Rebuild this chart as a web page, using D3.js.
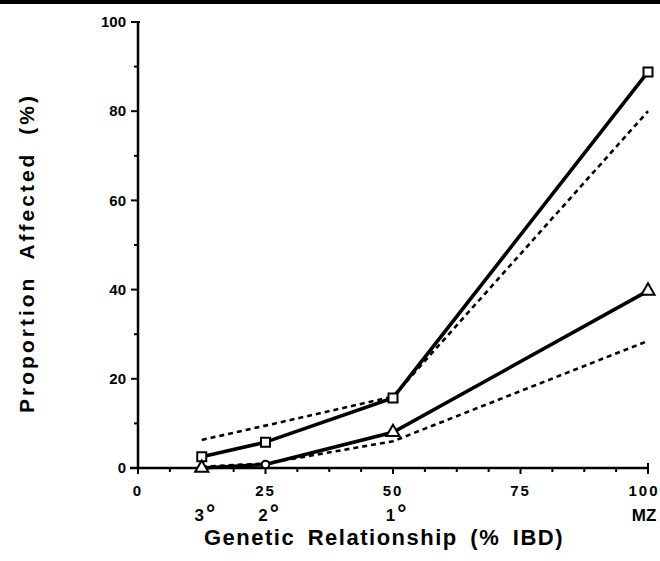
<!DOCTYPE html>
<html>
<head>
<meta charset="utf-8">
<script src="https://cdn.jsdelivr.net/npm/d3@7"></script>
<style>
  body { margin: 0; background: #fff; }
  text { font-family: "Liberation Sans", Arial, sans-serif; font-weight: bold; fill: #000; }
</style>
</head>
<body>
<div class="chart"></div>
<script>
// data
var ibd = [12.5, 25, 50, 100];
var relLabels = ["3", "2", "1", "MZ"];
var observedHigh = [2.5, 5.8, 15.7, 88.8];
var observedLow = [0, 0.8, 8, 39.7];
var modelHigh = [6.3, 9.5, 16, 80];
var modelLow = [0.3, 1, 6, 28.5];
var xTicks = [0, 25, 50, 75, 100];
var yTicks = [0, 20, 40, 60, 80, 100];

var w = 660, h = 561;

var svg = d3.select(".chart").append("svg")
  .attr("width", w)
  .attr("height", h);

// dark scan edge along the top
svg.append("rect").attr("x", 0).attr("y", 0).attr("width", w).attr("height", 4).attr("fill", "#000");

var x = d3.scaleLinear().domain([0, 100]).range([138, 648]);
var y = d3.scaleLinear().domain([0, 100]).range([468, 22]);

// y axis
var yAxis = svg.append("g").attr("transform", "translate(" + x(0) + ",0)");
yAxis.append("line").attr("x1", 0).attr("x2", 0).attr("y1", y(100)).attr("y2", y(0))
  .attr("stroke", "#000").attr("stroke-width", 2.5);
yAxis.selectAll("line.minor").data(d3.range(10, 100, 20)).enter().append("line")
  .attr("class", "minor")
  .attr("x1", -4).attr("x2", 0)
  .attr("y1", function(d) { return y(d); }).attr("y2", function(d) { return y(d); })
  .attr("stroke", "#000").attr("stroke-width", 2);
yAxis.selectAll("line.major").data(yTicks).enter().append("line")
  .attr("class", "major")
  .attr("x1", -7).attr("x2", function(d) { return d === 100 ? 2 : 0; })
  .attr("y1", function(d) { return y(d); }).attr("y2", function(d) { return y(d); })
  .attr("stroke", "#000").attr("stroke-width", 2);
yAxis.selectAll("text").data(yTicks).enter().append("text")
  .attr("x", -12)
  .attr("y", function(d) { return y(d); })
  .attr("dy", "0.35em")
  .attr("text-anchor", "end")
  .attr("font-size", 15)
  .text(function(d) { return d; });

// x axis
var xAxis = svg.append("g").attr("transform", "translate(0," + y(0) + ")");
xAxis.append("line").attr("x1", x(0) - 8).attr("x2", x(100)).attr("y1", 0).attr("y2", 0)
  .attr("stroke", "#000").attr("stroke-width", 2.5);
xAxis.selectAll("line.tick").data(d3.range(0, 100.1, 6.25)).enter().append("line")
  .attr("class", "tick")
  .attr("x1", function(d) { return x(d); }).attr("x2", function(d) { return x(d); })
  .attr("y1", function(d) { return d === 100 ? -5 : 0; })
  .attr("y2", function(d) { return d % 25 === 0 ? 6 : 4; })
  .attr("stroke", "#000").attr("stroke-width", 2);
xAxis.selectAll("text.num").data(xTicks).enter().append("text")
  .attr("class", "num")
  .attr("x", function(d) { return x(d) - (d === 100 ? 4 : 0); })
  .attr("y", 28)
  .attr("text-anchor", "middle")
  .attr("font-size", 15)
  .attr("letter-spacing", 2)
  .text(function(d) { return d; });
var rel = xAxis.selectAll("text.rel").data(relLabels).enter().append("text")
  .attr("class", "rel")
  .attr("x", function(d, i) { return x(ibd[i]) + (i === 3 ? -4 : 3); })
  .attr("y", 53)
  .attr("text-anchor", "middle")
  .attr("font-size", 17)
  .text(function(d) { return d; });
rel.filter(function(d, i) { return i < 3; })
  .append("tspan")
  .attr("dx", 2)
  .attr("font-size", 23)
  .text("°");

// titles
svg.append("text")
  .attr("transform", "translate(34,253) rotate(-90)")
  .attr("text-anchor", "middle")
  .attr("font-size", 21)
  .attr("word-spacing", 8)
  .attr("letter-spacing", 3)
  .text("Proportion Affected (%)");
svg.append("text")
  .attr("x", 384).attr("y", 545)
  .attr("text-anchor", "middle")
  .attr("font-size", 22)
  .attr("word-spacing", 5)
  .attr("letter-spacing", 1.5)
  .text("Genetic Relationship (% IBD)");

var line = d3.line()
  .x(function(d, i) { return x(ibd[i]); })
  .y(function(d) { return y(d); });

// model (dashed) curves
[modelHigh, modelLow].forEach(function(s) {
  svg.append("path").datum(s)
    .attr("d", line)
    .attr("fill", "none")
    .attr("stroke", "#000")
    .attr("stroke-width", 2.6)
    .attr("stroke-dasharray", "5,4");
});

// observed (solid) curves
[observedHigh, observedLow].forEach(function(s) {
  svg.append("path").datum(s)
    .attr("d", line)
    .attr("fill", "none")
    .attr("stroke", "#000")
    .attr("stroke-width", 3.6);
});

svg.selectAll("path.sq").data(observedHigh).enter().append("path")
  .attr("class", "sq")
  .attr("transform", function(d, i) { return "translate(" + x(ibd[i]) + "," + y(d) + ")"; })
  .attr("d", d3.symbol().type(d3.symbolSquare).size(81))
  .attr("fill", "#fff").attr("stroke", "#000").attr("stroke-width", 2);

svg.selectAll("path.tri").data(observedLow).enter().append("path")
  .attr("class", "tri")
  .attr("transform", function(d, i) { return "translate(" + x(ibd[i]) + "," + y(d) + ")"; })
  .attr("d", function(d, i) {
    return d3.symbol().type(i === 1 ? d3.symbolCircle : d3.symbolTriangle).size(i === 1 ? 45 : 75)();
  })
  .attr("fill", "#fff").attr("stroke", "#000").attr("stroke-width", 2);
</script>
</body>
</html>
